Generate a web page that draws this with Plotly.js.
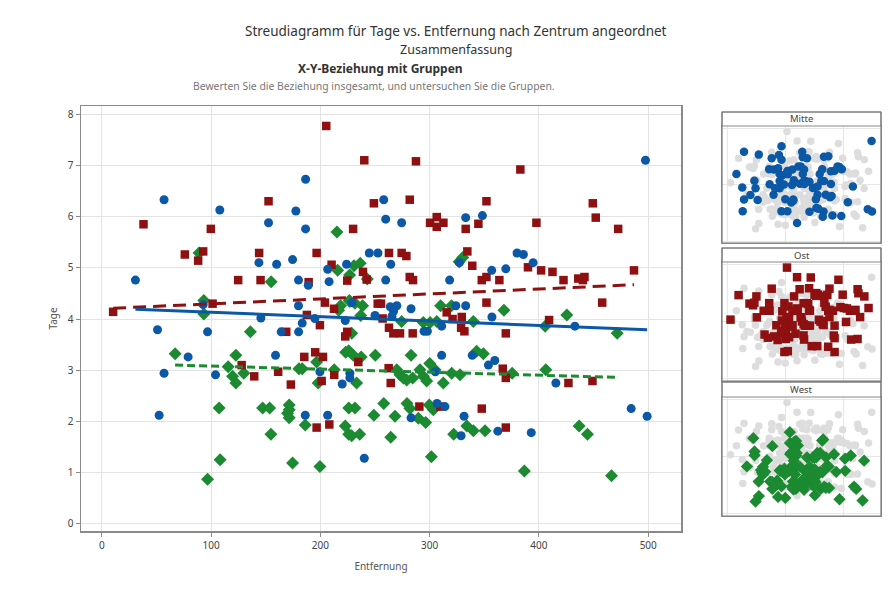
<!DOCTYPE html>
<html><head><meta charset="utf-8">
<script src="https://cdn.plot.ly/plotly-3.0.1.min.js"></script>
<style>body{margin:0;background:#fff}#chart{width:891px;height:599px}</style>
</head><body><div id="chart"></div>
<script>
// ---- Data (Entfernung, Tage) ----
const mitteX = [30.8,57,108,152.6,143.8,160,174.6,177.6,186.5,186.5,180,189,180,206.7,208,224,244.8,252.7,145.6,183.4,195,222.8,229,250,92.8,497.5,258,259.8,274.4,333,348.3,264.4,259.8,318.3,327.2,356.8,369.7,380,385.8,394.7,333,324,283,270,264,267,265.5,357,432.9,51,96.8,79,57,104.1,52.5,159,164.2,180.1,199.6,186.2,206.7,220,227,227,240.2,311,339,353.8,359.6,305.2,415.5,484.4,499,331.5,283,306.8,314,328.8,362.4,393,294.9,297.9,311];
const mitteY = [4.76,6.33,6.13,5.88,5.10,5.07,5.16,6.11,6.73,5.76,4.76,4.66,4.26,4.97,4.73,5.07,5.29,5.29,4.02,3.92,4.01,3.97,4.32,4.07,4.28,7.10,6.33,5.95,5.88,5.98,6.02,5.07,4.76,4.76,5.10,4.95,4.98,5.29,5.26,5.10,4.26,4.26,4.20,4.26,4.24,4.15,4.05,4.04,3.86,3.79,3.75,3.26,2.94,2.91,2.12,3.29,3.75,3.75,2.97,2.12,2.12,2.73,2.94,2.85,1.28,3.29,3.29,3.10,3.19,2.97,2.75,2.25,2.10,2.10,2.07,2.35,2.29,1.72,1.81,1.78,3.76,3.76,3.86];

const ostX = [10.4,38.2,76,88.2,92.8,99.8,101.4,124.8,144,145.3,152.6,189.3,196.6,187.7,205.4,210.3,204.2,212.5,224.6,230,239,242.4,240.2,249,199.6,287.5,383,281.8,352,449.3,452,472.5,397.7,300.4,306.5,312.6,306.5,333,344.6,262.8,274.4,278.7,334.5,339,281.8,284.8,347.7,352,363.8,390,402,412.4,422.5,436,441.7,440.2,487,457.9,352,252.5,255.5,257,409.3,315.6,321,329.4,128,139.5,161.4,173,168.8,185.3,195.3,202.4,201.2,212.7,196.6,208.2,222.8,224.6,234.7,262.8,266.8,272.9,284.5,328.8,331.8,369.7,264.4,262.5,366.9,369.7,427,449,290.6,309.8,347.7,369.7];
const ostY = [4.14,5.85,5.26,5.14,5.32,5.76,4.30,4.76,5.29,4.76,6.30,4.72,5.29,4.08,7.77,5.06,4.32,4.20,4.75,5.76,4.92,4.77,7.10,6.26,3.88,7.08,6.92,6.33,6.30,6.26,5.98,5.76,5.88,5.88,5.99,5.88,5.80,5.76,5.86,5.29,5.29,5.23,5.32,5.04,4.82,4.76,4.76,4.82,4.76,5.01,4.95,4.92,4.76,4.79,4.82,4.76,4.95,4.32,4.32,4.30,4.30,4.01,3.98,4.13,4.00,4.04,3.10,2.88,2.97,2.72,3.75,3.26,3.35,3.26,2.79,2.91,1.88,1.94,3.66,3.75,3.16,3.83,3.72,3.72,3.72,3.83,3.76,3.72,2.75,3.04,3.03,2.85,2.75,2.79,2.29,2.29,2.25,1.88];

const westX = [89,93.4,93.4,155,215.2,215.8,226.8,230.8,236.5,243,226.5,218.5,216.7,238.7,237,136,330.3,327,310,320,368,425.5,274.4,294.2,300.4,306.5,340,405.7,67.1,115.7,122.7,119.7,122.7,130,107.4,147.2,153.6,154.8,108.3,96.8,171.5,171.5,170,171.5,174.6,180.4,183.4,186.2,196.6,198,199.6,212.7,223.2,226,230.1,237.4,233.2,228.7,222.8,226,228.7,236,226,231.7,249,250.3,283,300.1,269.9,272.9,275.9,284.5,291.2,294.2,297.3,279,304.9,312.5,320.2,327.8,349.2,343,375.5,406.3,471.6,258,268.3,279.3,282,289.7,296.4,299.7,303.4,264.4,322,334,340,350.7,301.6,386.7,436.8,444.4,466.4,227,231.7];
const westY = [5.29,4.36,4.10,4.73,5.70,4.95,4.86,5.04,5.09,4.78,4.36,4.26,4.17,4.26,4.07,3.75,5.20,5.12,4.26,4.26,4.17,4.08,3.95,3.93,3.93,3.95,3.95,3.86,3.32,3.07,3.29,2.88,2.75,2.94,2.26,2.26,2.26,1.75,1.25,0.87,2.32,2.23,2.16,2.07,1.19,3.03,3.03,1.93,3.16,2.75,1.12,3.01,3.35,3.38,3.29,3.26,2.75,3.72,1.91,1.75,1.72,1.75,2.26,2.26,2.12,3.29,3.29,3.13,3.01,2.91,2.85,2.85,3.01,2.88,2.79,2.81,3.01,2.75,2.94,2.91,3.32,3.37,2.94,3.01,3.72,2.35,2.10,2.35,2.25,2.06,1.98,2.32,2.23,1.69,1.75,1.91,1.82,1.82,1.31,1.03,1.91,1.75,0.94,4.34,4.31];

// fitted group lines (Tage at the smallest and largest Entfernung of each group)
const fitMitte = [4.19, 3.79];
const fitOst = [4.21, 4.67];
const fitWest = [3.10, 2.86];

const groups = ['Mitte','Ost','West'];
const xTicks = [0,100,200,300,400,500];
const yTicks = [0,1,2,3,4,5,6,7,8];

// ---- styling ----
const W = 891, H = 599;
const PX = p => p / W, PY = p => 1 - p / H;
const colBlue = '#0b58a6', colRed = '#8e1010', colGreen = '#1b8a31', colGray = '#dddddd';
const FONT = 'Noto Sans, sans-serif';
const xr = [-19, 530], yr = [-0.14, 8.16];

function rng(a){ return [Math.min(...a), Math.max(...a)]; }

const traces = [];
// main scatter
traces.push({x: westX, y: westY, type:'scatter', mode:'markers', xaxis:'x', yaxis:'y',
  marker:{symbol:'diamond', size:10, color:colGreen}, hoverinfo:'skip'});
traces.push({x: ostX, y: ostY, type:'scatter', mode:'markers', xaxis:'x', yaxis:'y',
  marker:{symbol:'square', size:8.5, color:colRed}, hoverinfo:'skip'});
traces.push({x: mitteX, y: mitteY, type:'scatter', mode:'markers', xaxis:'x', yaxis:'y',
  marker:{symbol:'circle', size:9, color:colBlue}, hoverinfo:'skip'});
// fit lines
traces.push({x: rng(ostX), y: fitOst, type:'scatter', mode:'lines', line:{color:colRed, width:3, dash:'13px,7px'}, hoverinfo:'skip'});
traces.push({x: rng(mitteX), y: fitMitte, type:'scatter', mode:'lines', line:{color:colBlue, width:3}, hoverinfo:'skip'});
traces.push({x: rng(westX), y: fitWest, type:'scatter', mode:'lines', line:{color:colGreen, width:3, dash:'8px,4px'}, hoverinfo:'skip'});

// facets
const allX = mitteX.concat(ostX, westX), allY = mitteY.concat(ostY, westY);
const facetData = [[mitteX,mitteY,colBlue,'circle',8.5],[ostX,ostY,colRed,'square',8.5],[westX,westY,colGreen,'diamond',9.5]];
facetData.forEach((f,i)=>{
  const ax = 'x'+(i+2), ay = 'y'+(i+2);
  traces.push({x: allX, y: allY, type:'scatter', mode:'markers', xaxis:ax, yaxis:ay,
    marker:{symbol:'circle', size:7.5, color:colGray}, hoverinfo:'skip'});
  traces.push({x: f[0], y: f[1], type:'scatter', mode:'markers', xaxis:ax, yaxis:ay,
    marker:{symbol:f[3], size:f[4], color:f[2]}, hoverinfo:'skip'});
});

const layout = {
  width: W, height: H, margin:{l:0,r:0,t:0,b:0}, showlegend:false,
  paper_bgcolor:'#fff', plot_bgcolor:'#fff', font:{family:FONT, color:'#444', size:10},
  xaxis:{domain:[PX(81),PX(681)], range:xr, tickvals:xTicks, ticktext:xTicks.map(String),
    showgrid:true, gridcolor:'#e3e3e3', zeroline:false, showline:true, linecolor:'#8a8a8a', linewidth:1.5, mirror:true,
    ticks:'outside', ticklen:4, tickcolor:'#8a8a8a', tickfont:{size:10, color:'#444'},
    title:{text:'Entfernung', font:{size:10, color:'#555'}, standoff:12}},
  yaxis:{domain:[PY(531),PY(106)], range:yr, tickvals:yTicks, ticktext:yTicks.map(String),
    showgrid:true, gridcolor:'#e3e3e3', zeroline:false, showline:true, linecolor:'#8a8a8a', linewidth:1.5, mirror:true,
    ticks:'outside', ticklen:4, tickcolor:'#8a8a8a', tickfont:{size:10, color:'#444'},
    title:{text:'Tage', font:{size:10, color:'#555'}, standoff:8}},
  annotations: [], shapes: []
};

const facetBoxes = [[112,126,243],[248,262,381],[382,397,516]]; // header top, plot top, plot bottom
facetBoxes.forEach((b,i)=>{
  const n = i+2;
  layout['xaxis'+n] = {domain:[PX(722),PX(881)], range:xr, anchor:'y'+n, dtick:200, tick0:0,
    showticklabels:false, showgrid:true, gridcolor:'#e6e6e6', zeroline:false, showline:true, linecolor:'#999', mirror:true, ticks:''};
  layout['yaxis'+n] = {domain:[PY(b[2]),PY(b[1])], range:yr, anchor:'x'+n, dtick:4, tick0:0,
    showticklabels:false, showgrid:true, gridcolor:'#e6e6e6', zeroline:false, showline:true, linecolor:'#999', mirror:true, ticks:''};
  layout.shapes.push({type:'rect', xref:'paper', yref:'paper', x0:PX(722), x1:PX(881), y0:PY(b[1]), y1:PY(b[0]),
    line:{color:'#888', width:1}, fillcolor:'#fff'});
  layout.shapes.push({type:'rect', xref:'paper', yref:'paper', x0:PX(722), x1:PX(881), y0:PY(b[2]), y1:PY(b[0]),
    line:{color:'#777', width:1.2}, fillcolor:'rgba(0,0,0,0)'});
  layout.annotations.push({xref:'paper', yref:'paper', x:PX(801.5), y:PY((b[0]+b[1])/2), text:groups[i],
    showarrow:false, xanchor:'center', yanchor:'middle', font:{size:9.5, color:'#444'}});
});

layout.annotations.push(
  {xref:'paper', yref:'paper', x:PX(456), y:PY(31), text:'Streudiagramm für Tage vs. Entfernung nach Zentrum angeordnet',
   showarrow:false, xanchor:'center', yanchor:'middle', font:{size:13.5, color:'#333'}},
  {xref:'paper', yref:'paper', x:PX(456), y:PY(49), text:'Zusammenfassung',
   showarrow:false, xanchor:'center', yanchor:'middle', font:{size:12.5, color:'#333'}},
  {xref:'paper', yref:'paper', x:PX(380), y:PY(68), text:'<b>X-Y-Beziehung mit Gruppen</b>',
   showarrow:false, xanchor:'center', yanchor:'middle', font:{size:12, color:'#333'}},
  {xref:'paper', yref:'paper', x:PX(374), y:PY(86), text:'Bewerten Sie die Beziehung insgesamt, und untersuchen Sie die Gruppen.',
   showarrow:false, xanchor:'center', yanchor:'middle', font:{size:10.4, color:'#777'}}
);

Plotly.newPlot('chart', traces, layout, {staticPlot:true, displayModeBar:false});
</script></body></html>
